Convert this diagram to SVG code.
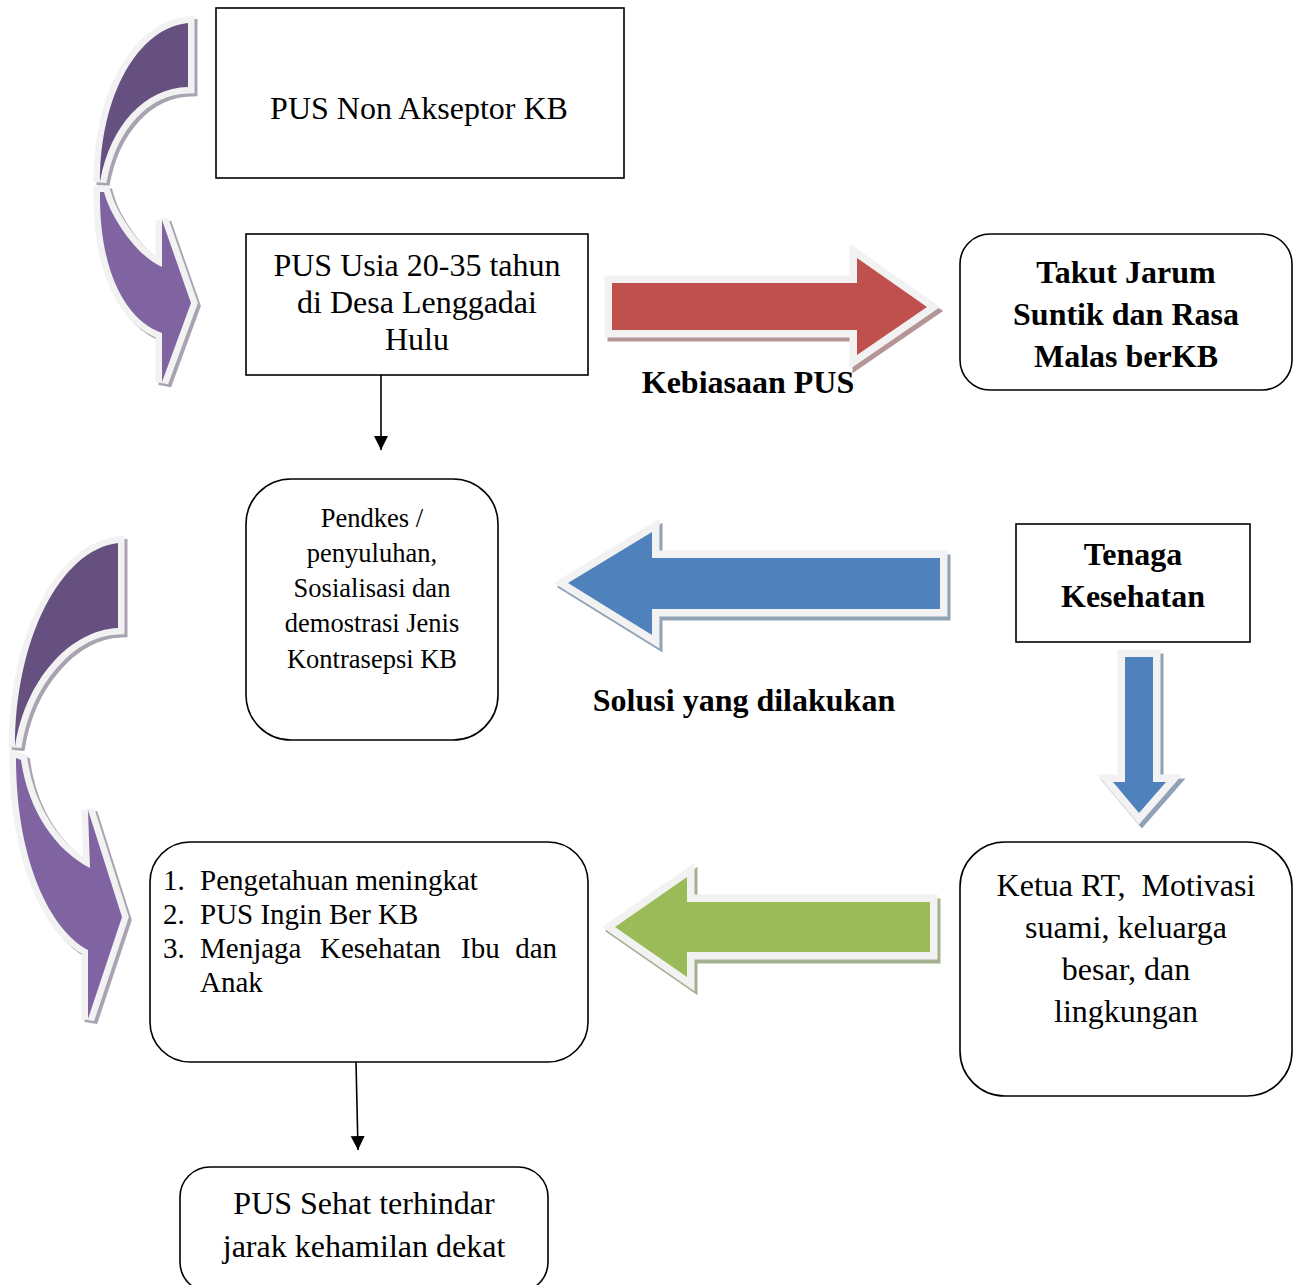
<svg xmlns="http://www.w3.org/2000/svg" width="1296" height="1285" viewBox="0 0 1296 1285">
<defs>
<style>
.box{fill:#fff;stroke:#000;stroke-width:1.6}
.t{font-family:"Liberation Serif","Times New Roman",serif;font-size:32px;fill:#000;text-anchor:middle}
.b{font-weight:bold}
.s{font-size:26.5px}
.li{font-size:29px;text-anchor:start}
.bd{fill:#f2f2f2;stroke:#f2f2f2;stroke-width:15;stroke-linejoin:miter;stroke-miterlimit:6}
.cv{stroke-miterlimit:2.6;stroke-width:13}
.conn{stroke:#000;stroke-width:1.6;fill:none}
</style>
<marker id="ah" viewBox="0 0 10 10" refX="10" refY="5" markerWidth="14" markerHeight="16" markerUnits="userSpaceOnUse" orient="auto">
<path d="M0,0 L10,5 L0,10 Z" fill="#000"/>
</marker>
<path id="cu1a" d="M188,23 C138,28 100,95 100,182 C110,125 145,88 188,87 Z"/>
<path id="cu1b" d="M100,192 C99,270 125,320 162,333 L162,382 L191,303 L162,220 L162,267 C135,255 110,215 104,192 Z"/>
<path id="cu2a" d="M118,543 C60,550 15,640 15,747 C25,680 70,630 118,628 Z"/>
<path id="cu2b" d="M16,758 C16,860 50,930 88,950 L88,1019 L122,917 L88,810 L90,868 C55,850 28,810 21,760 Z"/>
<path id="redA" d="M612,283 L857,283 L857,258 L927,307 L857,355 L857,330 L612,330 Z"/>
<path id="blueA" d="M940,558 L652,558 L652,532 L568,583 L652,635 L652,609 L940,609 Z"/>
<path id="greenA" d="M930,902 L687,902 L687,877 L615,927 L687,977 L687,952 L930,952 Z"/>
<path id="downA" d="M1125,657 L1153,657 L1153,782 L1166,782 L1139,813 L1113,782 L1125,782 Z"/>
</defs>
<rect width="1296" height="1285" fill="#fff"/>

<g id="curved-arrow-top">
<use href="#cu1a" class="bd cv" transform="translate(3,3)" style="fill:#a9a3b1;stroke:#a9a3b1"/>
<use href="#cu1b" class="bd cv" transform="translate(3,3)" style="fill:#a9a3b1;stroke:#a9a3b1"/>
<use href="#cu1a" class="bd cv"/>
<use href="#cu1b" class="bd cv"/>
<use href="#cu1a" fill="#65507f"/>
<use href="#cu1b" fill="#8064a2"/>
</g>
<g id="curved-arrow-bottom">
<use href="#cu2a" class="bd cv" transform="translate(3,3)" style="fill:#a9a3b1;stroke:#a9a3b1"/>
<use href="#cu2b" class="bd cv" transform="translate(3,3)" style="fill:#a9a3b1;stroke:#a9a3b1"/>
<use href="#cu2a" class="bd cv"/>
<use href="#cu2b" class="bd cv"/>
<use href="#cu2a" fill="#65507f"/>
<use href="#cu2b" fill="#8064a2"/>
</g>
<g id="red-arrow">
<use href="#redA" class="bd" transform="translate(3,4)" style="fill:#b59595;stroke:#b59595"/>
<use href="#redA" class="bd"/>
<use href="#redA" fill="#c0504d"/>
</g>
<g id="blue-arrow">
<use href="#blueA" class="bd" transform="translate(3,4)" style="fill:#91a1b6;stroke:#91a1b6"/>
<use href="#blueA" class="bd"/>
<use href="#blueA" fill="#4f81bd"/>
</g>
<g id="green-arrow">
<use href="#greenA" class="bd" transform="translate(3,4)" style="fill:#a5b08f;stroke:#a5b08f"/>
<use href="#greenA" class="bd"/>
<use href="#greenA" fill="#9bbb59"/>
</g>
<g id="down-arrow">
<use href="#downA" class="bd" transform="translate(3,4)" style="fill:#91a1b6;stroke:#91a1b6"/>
<use href="#downA" class="bd"/>
<use href="#downA" fill="#4f81bd"/>
</g>

<g id="connectors">
<line class="conn" x1="381" y1="375" x2="381" y2="450" marker-end="url(#ah)"/>
<line class="conn" x1="356" y1="1062" x2="358" y2="1150" marker-end="url(#ah)"/>
</g>

<g id="node-pus-non">
<rect class="box" x="216" y="8" width="408" height="170"/>
<text class="t" x="419" y="119">PUS Non Akseptor KB</text>
</g>
<g id="node-pus-usia">
<rect class="box" x="246" y="234" width="342" height="141"/>
<text class="t" x="417" y="276">PUS Usia 20-35 tahun</text>
<text class="t" x="417" y="313">di Desa Lenggadai</text>
<text class="t" x="417" y="350">Hulu</text>
</g>
<g id="node-takut">
<rect class="box" x="960" y="234" width="332" height="156" rx="30"/>
<text class="t b" x="1126" y="283">Takut Jarum</text>
<text class="t b" x="1126" y="325">Suntik dan Rasa</text>
<text class="t b" x="1126" y="367">Malas berKB</text>
</g>
<g id="label-kebiasaan">
<text class="t b" x="748" y="393">Kebiasaan PUS</text>
</g>
<g id="node-pendkes">
<rect class="box" x="246" y="479" width="252" height="261" rx="45"/>
<text class="t s" x="372" y="527">Pendkes /</text>
<text class="t s" x="372" y="562">penyuluhan,</text>
<text class="t s" x="372" y="597">Sosialisasi dan</text>
<text class="t s" x="372" y="632">demostrasi Jenis</text>
<text class="t s" x="372" y="668">Kontrasepsi KB</text>
</g>
<g id="node-tenaga">
<rect class="box" x="1016" y="524" width="234" height="118"/>
<text class="t b" x="1133" y="565">Tenaga</text>
<text class="t b" x="1133" y="607">Kesehatan</text>
</g>
<g id="label-solusi">
<text class="t b" x="744" y="711">Solusi yang dilakukan</text>
</g>
<g id="node-hasil">
<rect class="box" x="150" y="842" width="438" height="220" rx="40"/>
<text class="t li" x="163" y="890">1.</text><text class="t li" x="200" y="890">Pengetahuan meningkat</text>
<text class="t li" x="163" y="924">2.</text><text class="t li" x="200" y="924">PUS Ingin Ber KB</text>
<text class="t li" x="163" y="958">3.</text><text class="t li" x="200" y="958">Menjaga</text><text class="t li" x="320" y="958">Kesehatan</text><text class="t li" x="461" y="958">Ibu</text><text class="t li" x="557" y="958" style="text-anchor:end">dan</text>
<text class="t li" x="200" y="992">Anak</text>
</g>
<g id="node-ketua">
<rect class="box" x="960" y="842" width="332" height="254" rx="45"/>
<text class="t" x="1126" y="896">Ketua RT,&#160; Motivasi</text>
<text class="t" x="1126" y="938">suami, keluarga</text>
<text class="t" x="1126" y="980">besar, dan</text>
<text class="t" x="1126" y="1022">lingkungan</text>
</g>
<g id="node-sehat">
<rect class="box" x="180" y="1167" width="368" height="125" rx="30"/>
<text class="t" x="364" y="1214">PUS Sehat terhindar</text>
<text class="t" x="364" y="1257">jarak kehamilan dekat</text>
</g>
</svg>
